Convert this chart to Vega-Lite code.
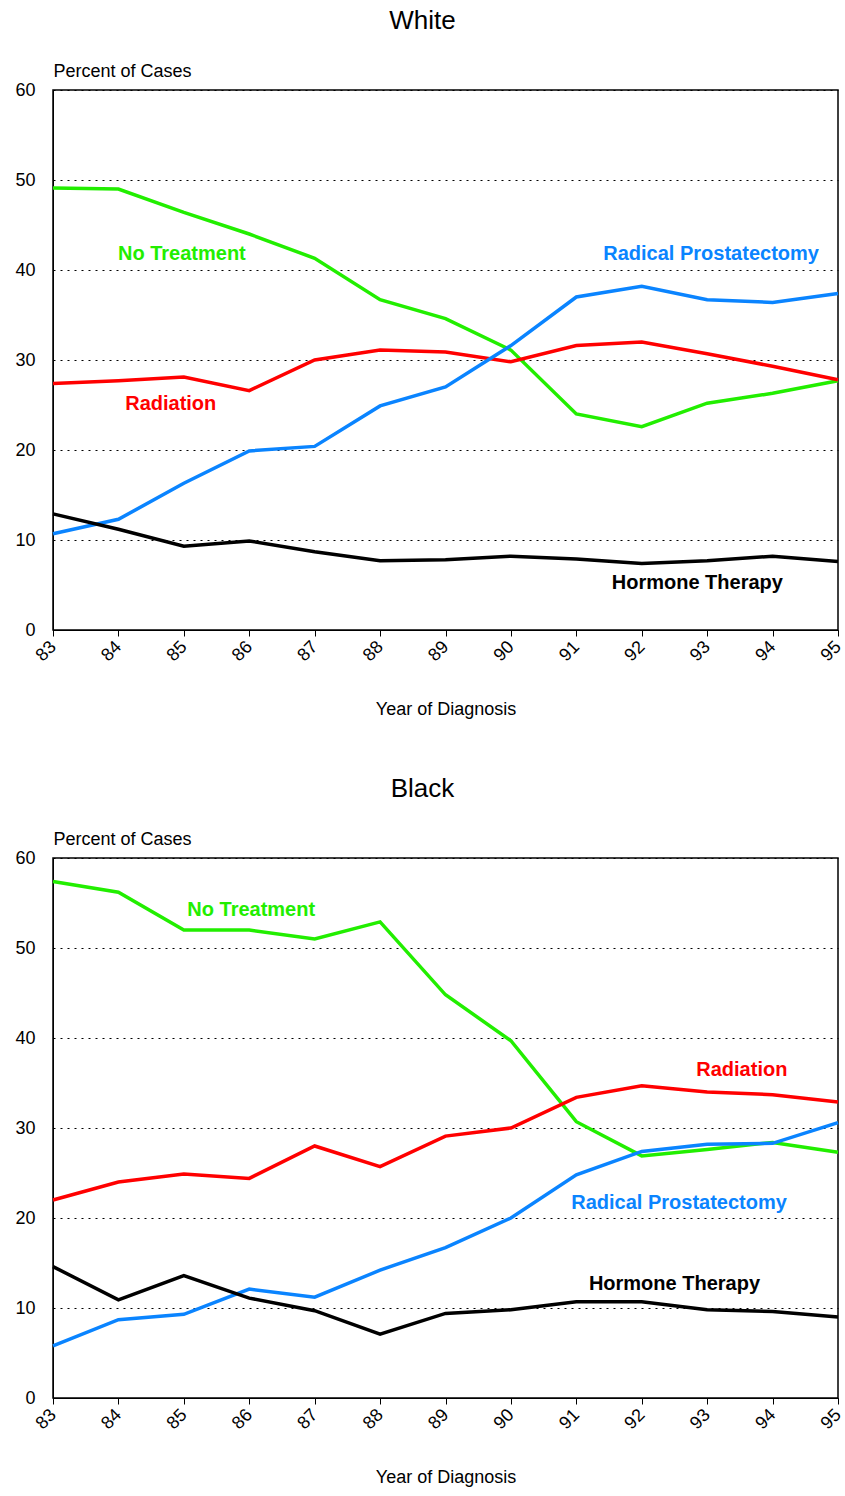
{
"$schema":"https://vega.github.io/schema/vega-lite/v6.json",
"padding":{"left":14,"top":7,"right":5,"bottom":5},
"spacing":55,
"config":{"font":"Liberation Sans","view":{"stroke":"black","strokeWidth":1.5},
 "title":{"fontSize":26,"fontWeight":"normal","offset":28,"dx":-23},
 "axis":{"labelFont":"Liberation Sans","titleFont":"Liberation Sans","labelFontSize":18,"titleFontSize":18,"titleFontWeight":"normal","labelColor":"black","titleColor":"black","domainColor":"black","tickColor":"black"}},
"datasets":{
"d":[
{"g":"White","s":"No Treatment","yr":83,"v":49.1},{"g":"White","s":"No Treatment","yr":84,"v":49},{"g":"White","s":"No Treatment","yr":85,"v":46.4},{"g":"White","s":"No Treatment","yr":86,"v":44},{"g":"White","s":"No Treatment","yr":87,"v":41.3},{"g":"White","s":"No Treatment","yr":88,"v":36.7},{"g":"White","s":"No Treatment","yr":89,"v":34.6},{"g":"White","s":"No Treatment","yr":90,"v":31.1},{"g":"White","s":"No Treatment","yr":91,"v":24},{"g":"White","s":"No Treatment","yr":92,"v":22.6},{"g":"White","s":"No Treatment","yr":93,"v":25.2},{"g":"White","s":"No Treatment","yr":94,"v":26.3},{"g":"White","s":"No Treatment","yr":95,"v":27.7},
{"g":"White","s":"Radiation","yr":83,"v":27.4},{"g":"White","s":"Radiation","yr":84,"v":27.7},{"g":"White","s":"Radiation","yr":85,"v":28.1},{"g":"White","s":"Radiation","yr":86,"v":26.6},{"g":"White","s":"Radiation","yr":87,"v":30},{"g":"White","s":"Radiation","yr":88,"v":31.1},{"g":"White","s":"Radiation","yr":89,"v":30.9},{"g":"White","s":"Radiation","yr":90,"v":29.8},{"g":"White","s":"Radiation","yr":91,"v":31.6},{"g":"White","s":"Radiation","yr":92,"v":32},{"g":"White","s":"Radiation","yr":93,"v":30.7},{"g":"White","s":"Radiation","yr":94,"v":29.3},{"g":"White","s":"Radiation","yr":95,"v":27.8},
{"g":"White","s":"Radical Prostatectomy","yr":83,"v":10.7},{"g":"White","s":"Radical Prostatectomy","yr":84,"v":12.3},{"g":"White","s":"Radical Prostatectomy","yr":85,"v":16.3},{"g":"White","s":"Radical Prostatectomy","yr":86,"v":19.9},{"g":"White","s":"Radical Prostatectomy","yr":87,"v":20.4},{"g":"White","s":"Radical Prostatectomy","yr":88,"v":24.9},{"g":"White","s":"Radical Prostatectomy","yr":89,"v":27},{"g":"White","s":"Radical Prostatectomy","yr":90,"v":31.6},{"g":"White","s":"Radical Prostatectomy","yr":91,"v":37},{"g":"White","s":"Radical Prostatectomy","yr":92,"v":38.2},{"g":"White","s":"Radical Prostatectomy","yr":93,"v":36.7},{"g":"White","s":"Radical Prostatectomy","yr":94,"v":36.4},{"g":"White","s":"Radical Prostatectomy","yr":95,"v":37.4},
{"g":"White","s":"Hormone Therapy","yr":83,"v":12.9},{"g":"White","s":"Hormone Therapy","yr":84,"v":11.2},{"g":"White","s":"Hormone Therapy","yr":85,"v":9.3},{"g":"White","s":"Hormone Therapy","yr":86,"v":9.9},{"g":"White","s":"Hormone Therapy","yr":87,"v":8.7},{"g":"White","s":"Hormone Therapy","yr":88,"v":7.7},{"g":"White","s":"Hormone Therapy","yr":89,"v":7.8},{"g":"White","s":"Hormone Therapy","yr":90,"v":8.2},{"g":"White","s":"Hormone Therapy","yr":91,"v":7.9},{"g":"White","s":"Hormone Therapy","yr":92,"v":7.4},{"g":"White","s":"Hormone Therapy","yr":93,"v":7.7},{"g":"White","s":"Hormone Therapy","yr":94,"v":8.2},{"g":"White","s":"Hormone Therapy","yr":95,"v":7.6},
{"g":"Black","s":"No Treatment","yr":83,"v":57.4},{"g":"Black","s":"No Treatment","yr":84,"v":56.2},{"g":"Black","s":"No Treatment","yr":85,"v":52},{"g":"Black","s":"No Treatment","yr":86,"v":52},{"g":"Black","s":"No Treatment","yr":87,"v":51},{"g":"Black","s":"No Treatment","yr":88,"v":52.9},{"g":"Black","s":"No Treatment","yr":89,"v":44.8},{"g":"Black","s":"No Treatment","yr":90,"v":39.7},{"g":"Black","s":"No Treatment","yr":91,"v":30.7},{"g":"Black","s":"No Treatment","yr":92,"v":26.9},{"g":"Black","s":"No Treatment","yr":93,"v":27.6},{"g":"Black","s":"No Treatment","yr":94,"v":28.4},{"g":"Black","s":"No Treatment","yr":95,"v":27.3},
{"g":"Black","s":"Radiation","yr":83,"v":22},{"g":"Black","s":"Radiation","yr":84,"v":24},{"g":"Black","s":"Radiation","yr":85,"v":24.9},{"g":"Black","s":"Radiation","yr":86,"v":24.4},{"g":"Black","s":"Radiation","yr":87,"v":28},{"g":"Black","s":"Radiation","yr":88,"v":25.7},{"g":"Black","s":"Radiation","yr":89,"v":29.1},{"g":"Black","s":"Radiation","yr":90,"v":30},{"g":"Black","s":"Radiation","yr":91,"v":33.4},{"g":"Black","s":"Radiation","yr":92,"v":34.7},{"g":"Black","s":"Radiation","yr":93,"v":34},{"g":"Black","s":"Radiation","yr":94,"v":33.7},{"g":"Black","s":"Radiation","yr":95,"v":32.9},
{"g":"Black","s":"Radical Prostatectomy","yr":83,"v":5.8},{"g":"Black","s":"Radical Prostatectomy","yr":84,"v":8.7},{"g":"Black","s":"Radical Prostatectomy","yr":85,"v":9.3},{"g":"Black","s":"Radical Prostatectomy","yr":86,"v":12.1},{"g":"Black","s":"Radical Prostatectomy","yr":87,"v":11.2},{"g":"Black","s":"Radical Prostatectomy","yr":88,"v":14.2},{"g":"Black","s":"Radical Prostatectomy","yr":89,"v":16.7},{"g":"Black","s":"Radical Prostatectomy","yr":90,"v":20},{"g":"Black","s":"Radical Prostatectomy","yr":91,"v":24.8},{"g":"Black","s":"Radical Prostatectomy","yr":92,"v":27.4},{"g":"Black","s":"Radical Prostatectomy","yr":93,"v":28.2},{"g":"Black","s":"Radical Prostatectomy","yr":94,"v":28.3},{"g":"Black","s":"Radical Prostatectomy","yr":95,"v":30.6},
{"g":"Black","s":"Hormone Therapy","yr":83,"v":14.6},{"g":"Black","s":"Hormone Therapy","yr":84,"v":10.9},{"g":"Black","s":"Hormone Therapy","yr":85,"v":13.6},{"g":"Black","s":"Hormone Therapy","yr":86,"v":11.1},{"g":"Black","s":"Hormone Therapy","yr":87,"v":9.7},{"g":"Black","s":"Hormone Therapy","yr":88,"v":7.1},{"g":"Black","s":"Hormone Therapy","yr":89,"v":9.4},{"g":"Black","s":"Hormone Therapy","yr":90,"v":9.8},{"g":"Black","s":"Hormone Therapy","yr":91,"v":10.7},{"g":"Black","s":"Hormone Therapy","yr":92,"v":10.7},{"g":"Black","s":"Hormone Therapy","yr":93,"v":9.8},{"g":"Black","s":"Hormone Therapy","yr":94,"v":9.6},{"g":"Black","s":"Hormone Therapy","yr":95,"v":9}
],
"l":[
{"g":"White","s":"No Treatment","yr":84.97,"v":41.8},{"g":"White","s":"Radical Prostatectomy","yr":93.06,"v":41.8},{"g":"White","s":"Radiation","yr":84.8,"v":25.1},{"g":"White","s":"Hormone Therapy","yr":92.85,"v":5.2},
{"g":"Black","s":"No Treatment","yr":86.03,"v":54.2},{"g":"Black","s":"Radiation","yr":93.53,"v":36.4},{"g":"Black","s":"Radical Prostatectomy","yr":92.57,"v":21.7},{"g":"Black","s":"Hormone Therapy","yr":92.5,"v":12.7}
]},
"vconcat":[
{"title":"White","width":785,"height":540,
 "layer":[
 {"data":{"name":"d"},"transform":[{"filter":"datum.g==='White'"}],"mark":{"type":"line","strokeWidth":3.5},
  "encoding":{"x":{"field":"yr","type":"quantitative","scale":{"domain":[83,95],"nice":false,"zero":false},"axis":{"values":[83,84,85,86,87,88,89,90,91,92,93,94,95],"format":"d","labelAngle":-45,"labelAlign":"right","labelBaseline":"middle","labelPadding":8,"grid":false,"title":"Year of Diagnosis","titlePadding":36,"tickSize":6}},
   "y":{"field":"v","type":"quantitative","scale":{"domain":[0,60]},"axis":{"values":[0,10,20,30,40,50,60],"grid":true,"gridDash":[2,5],"gridColor":"black","title":"Percent of Cases","titleAngle":0,"titleAlign":"left","titleX":0,"titleY":-10,"titleBaseline":"bottom","tickSize":0,"labelPadding":18}},
   "color":{"field":"s","type":"nominal","legend":null,"scale":{"domain":["No Treatment","Radiation","Radical Prostatectomy","Hormone Therapy"],"range":["#22ee00","#ff0000","#0a84ff","#000000"]}},
   "detail":{"field":"s"}}},
 {"data":{"name":"l"},"transform":[{"filter":"datum.g==='White'"}],"mark":{"type":"text","fontSize":20,"fontWeight":"bold"},
  "encoding":{"x":{"field":"yr","type":"quantitative"},"y":{"field":"v","type":"quantitative"},"text":{"field":"s"},"color":{"field":"s","type":"nominal","legend":null}}}
 ]},
{"title":"Black","width":785,"height":540,
 "layer":[
 {"data":{"name":"d"},"transform":[{"filter":"datum.g==='Black'"}],"mark":{"type":"line","strokeWidth":3.5},
  "encoding":{"x":{"field":"yr","type":"quantitative","scale":{"domain":[83,95],"nice":false,"zero":false},"axis":{"values":[83,84,85,86,87,88,89,90,91,92,93,94,95],"format":"d","labelAngle":-45,"labelAlign":"right","labelBaseline":"middle","labelPadding":8,"grid":false,"title":"Year of Diagnosis","titlePadding":36,"tickSize":6}},
   "y":{"field":"v","type":"quantitative","scale":{"domain":[0,60]},"axis":{"values":[0,10,20,30,40,50,60],"grid":true,"gridDash":[2,5],"gridColor":"black","title":"Percent of Cases","titleAngle":0,"titleAlign":"left","titleX":0,"titleY":-10,"titleBaseline":"bottom","tickSize":0,"labelPadding":18}},
   "color":{"field":"s","type":"nominal","legend":null,"scale":{"domain":["No Treatment","Radiation","Radical Prostatectomy","Hormone Therapy"],"range":["#22ee00","#ff0000","#0a84ff","#000000"]}},
   "detail":{"field":"s"}}},
 {"data":{"name":"l"},"transform":[{"filter":"datum.g==='Black'"}],"mark":{"type":"text","fontSize":20,"fontWeight":"bold"},
  "encoding":{"x":{"field":"yr","type":"quantitative"},"y":{"field":"v","type":"quantitative"},"text":{"field":"s"},"color":{"field":"s","type":"nominal","legend":null}}}
 ]}
]}
